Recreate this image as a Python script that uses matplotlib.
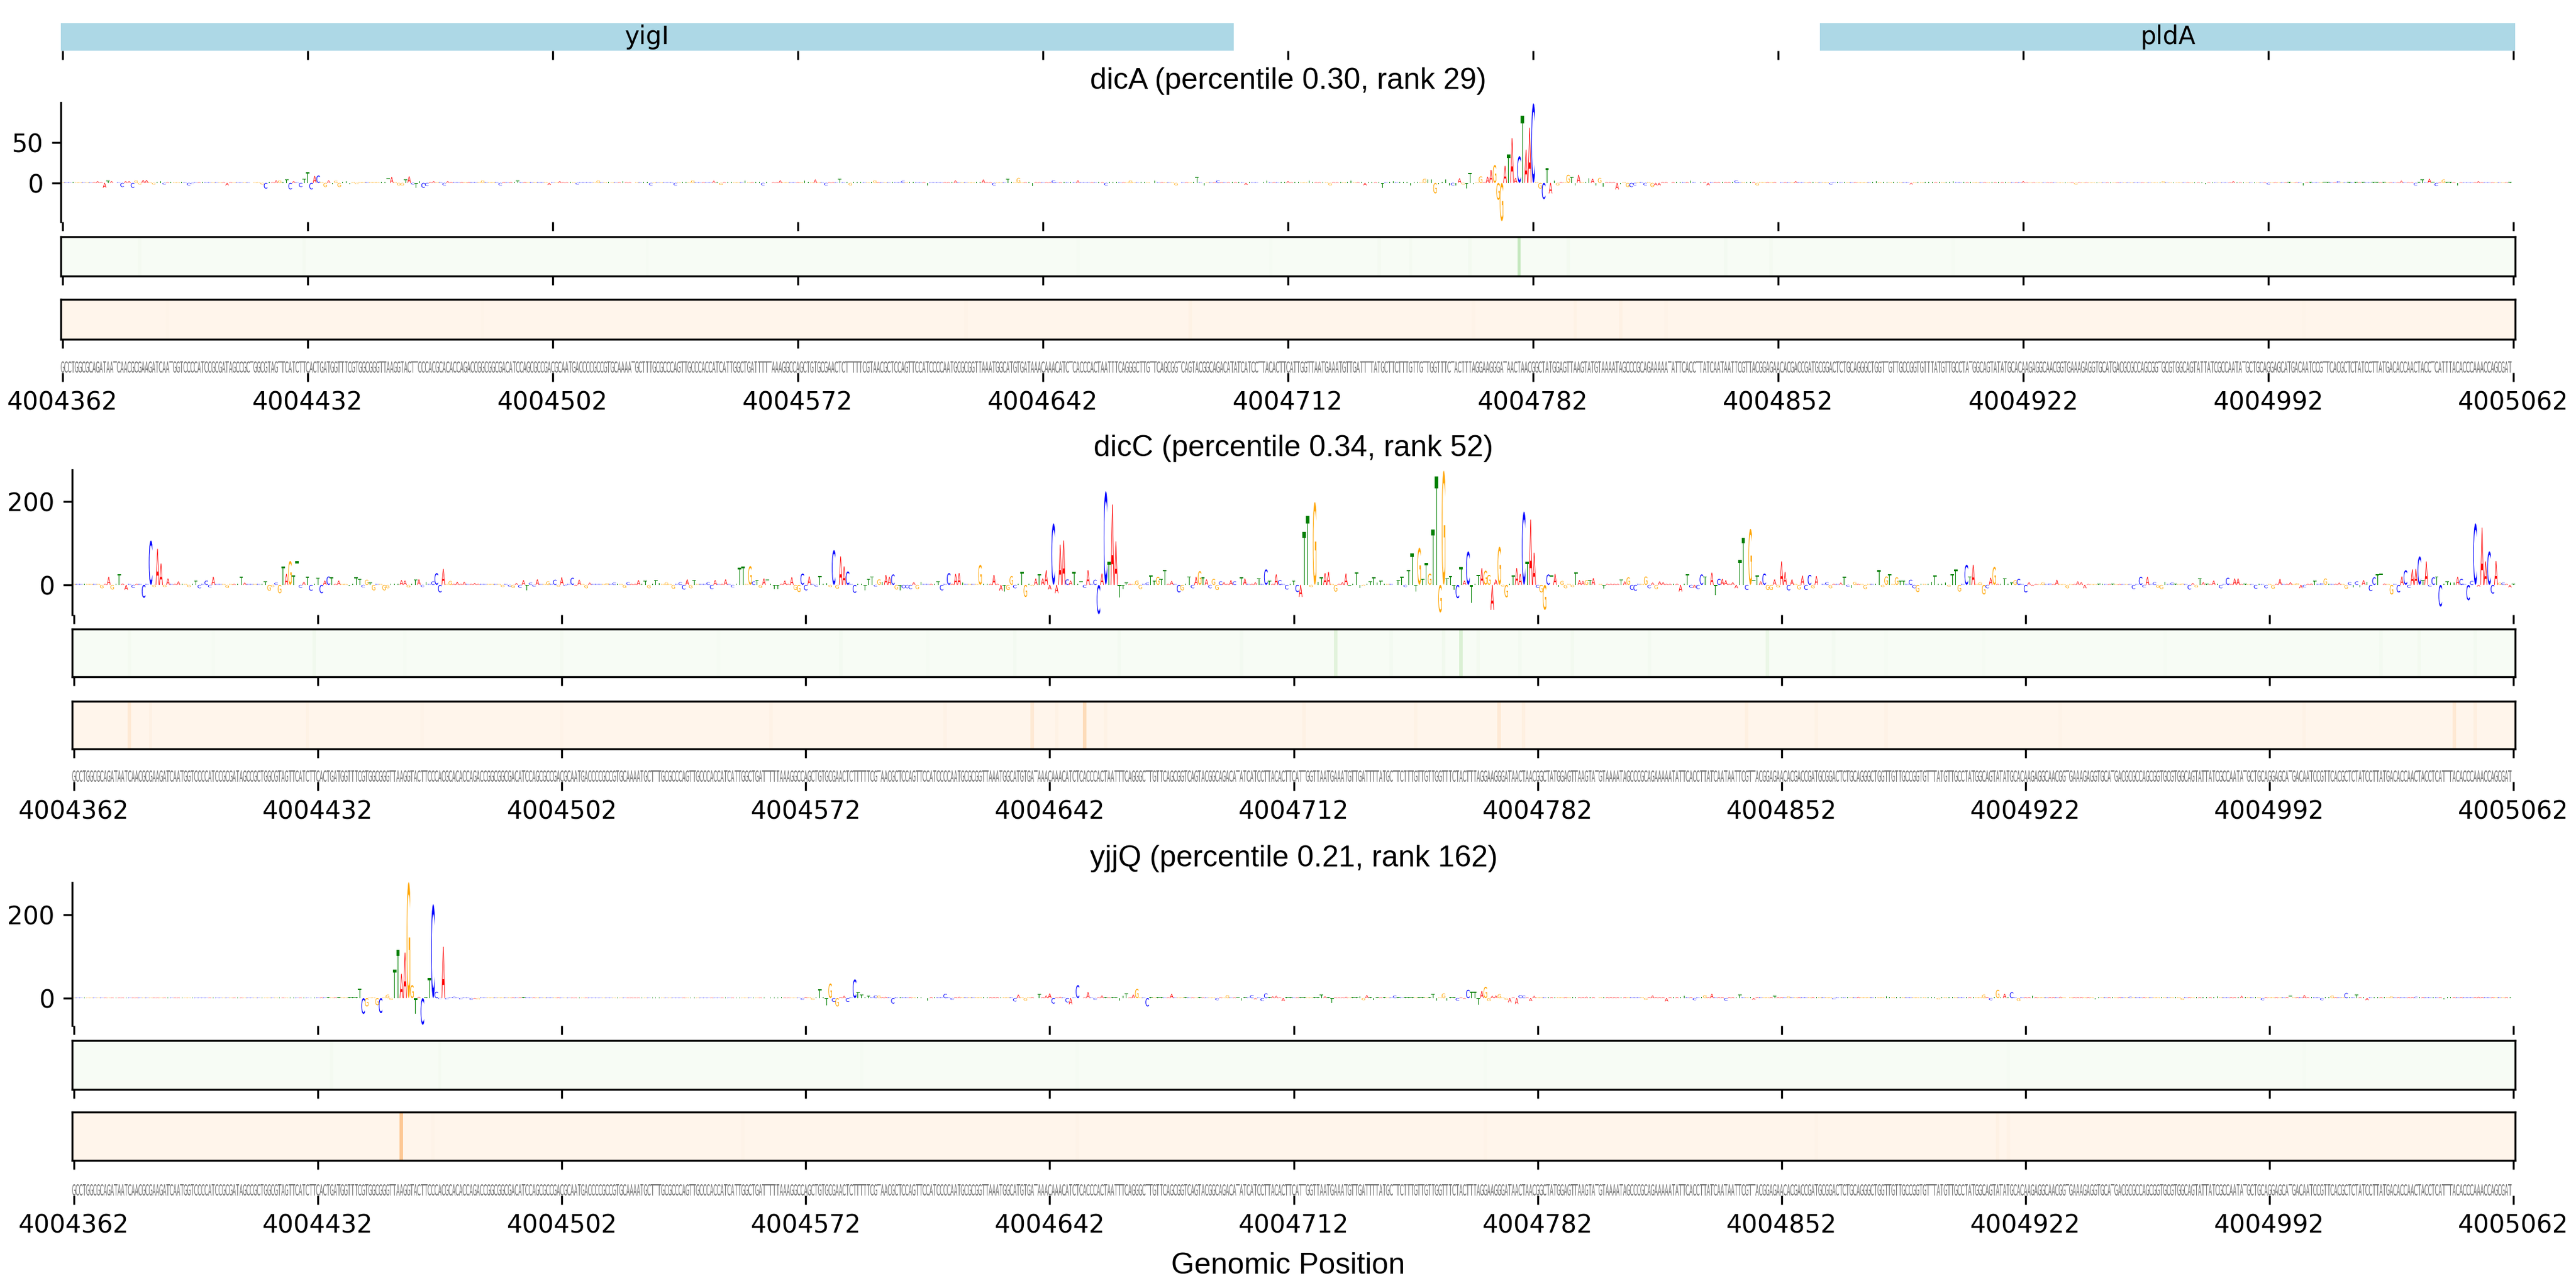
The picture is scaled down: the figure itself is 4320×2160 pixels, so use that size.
import numpy as np
import matplotlib
matplotlib.use('Agg')
import matplotlib.pyplot as plt
from matplotlib.font_manager import FontProperties
from matplotlib.patches import PathPatch
from matplotlib.textpath import TextPath
from matplotlib.transforms import Affine2D

start_pos = 4004362
tick_pos = list(range(0, 701, 70))
tick_labels = [str(start_pos + p) for p in tick_pos]

genes = [('yigI', -0.5, 334.5), ('pldA', 502.0, 700.5)]

sequence = (
    "GCCTGGCGCAGATAATCAACGCGAAGATCAATGGTCCCCATCCGCGATAGCCGCTGGCGTAGTTCATCTTCACTGATGGTTTCGTGGCGGGTTAAGGTACTTCCCACGCACACCAGACCGGCGGCGACATCCAGCGCCGACGCAATGACCCC"
    "GCCGTGCAAAATGCTTTGCGCCCAGTTGCCCACCATCATTGGCTGATTTTTAAAGGCCAGCTGTGCGAACTCTTTTTCGTAACGCTCCAGTTCCATCCCCAATGCGCGGTTAAATGGCATGTGATAAACAAACATCTCACCCA"
    "CTAATTTCAGGGCTTGTTCAGCGGTCAGTACGGCAGACATATCATCCTTACACTTCATTGGTTAATGAAATGTTGATTTTATGCTTCTTTGTTGTTGGTTTCTACTTTAGGAAGGGATAACTAACGGCTATGGAGTTAAGTATGTAAAAT"
    "AGCCCGCAGAAAAATATTCACCTTATCAATAATTCGTTACGGAGAACACGACCGATGCGGACTCTGCAGGGCTGGTTGTTGCCGGTGTTTATGTTGCCTATGGCAGTATATGCACAAGAGGCAACGGTGAAAGAGGTGCATGACGCGCCA"
    "GCGGTGCGTGGCAGTATTATCGCCAATATGCTGCAGGAGCATGACAATCCGTTCACGCTCTATCCTTATGACACCAACTACCTCATTTACACCCAAACCAGCGAT"
)

# (position, base, height)
dicA_peaks = [
    (10,'A',2),(12,'A',-6),(13,'T',2.5),(14,'A',2),(17,'C',-5),(18,'A',2),(19,'A',2),(20,'C',-6),(21,'G',3),(22,'G',-2),
    (23,'A',3.5),(24,'A',3.5),(26,'G',-2),(28,'T',2),(29,'C',-2),(36,'C',-3),(37,'C',-1.5),(47,'A',-3),(58,'C',-7),(57,'G',-2),
    (61,'A',3),(62,'G',3),(64,'T',4),(65,'C',-8),(66,'A',2),(68,'C',-5),(69,'T',5),(70,'T',13),(71,'C',-8),(72,'A',8.5),
    (73,'C',9),(75,'G',-5),(76,'A',3),(77,'T',-2),(78,'G',2.5),(79,'G',-5),(81,'T',2),(82,'T',-2),(84,'G',-1.5),(93,'T',5.5),
    (94,'A',7),(96,'G',-3),(97,'G',-3),(98,'T',4),(99,'A',8),(100,'C',-2),(101,'T',-6),(102,'T',2),(103,'C',-6),(104,'C',-4),
    (106,'A',2),(109,'C',-3),(110,'A',2),(120,'G',3),(125,'C',-3),(130,'T',2.5),(139,'A',-2.5),(142,'A',2),(147,'C',-2),(153,'G',3),(160,'T',2),(168,'C',-3),
    (175,'C',-3),(180,'G',3),(186,'A',2.5),(188,'G',-2.5),(195,'T',3),(200,'C',-3),(205,'A',3),
    (212,'T',3),(215,'A',4),(218,'C',-3),(222,'T',5),(225,'G',-3),(232,'G',3),(240,'C',2.5),(247,'T',-3),(255,'A',3),(263,'A',4),(266,'C',-3),(270,'T',5),
    (273,'G',6),(277,'T',-4),(283,'C',3),(290,'A',3),(298,'C',-3),(305,'G',3),(312,'T',3),(318,'G',-3),(324,'T',7),(326,'T',-3),(330,'C',3),(338,'A',-2.5),(344,'T',3),
    (350,'A',2),(356,'T',3),(362,'G',-3),(368,'T',3),(372,'A',-3),(377,'T',-6),(380,'T',2),(385,'T',-3),(389,'G',5),(390,'T',4.5),(391,'T',4.5),(392,'G',-13),
    (393,'T',-2),(395,'T',4.5),(396,'T',-3),(397,'C',-3),(398,'T',-3),(399,'A',5.5),(400,'G',-2),(401,'T',-7),(402,'T',12),(403,'T',-2),
    (405,'G',8),(407,'A',7.5),(408,'A',16),(409,'G',22),(410,'G',-21),(411,'G',-47),(412,'A',21),(413,'T',35),(414,'A',55),(415,'A',6),
    (416,'C',33),(417,'T',83),(418,'A',41),(419,'A',68),(420,'C',98),(422,'G',-7),(423,'C',-20),(424,'T',18),(425,'A',-13),(426,'T',3),
    (427,'G',-3),(430,'G',10),(431,'T',7),(432,'T',-3),(433,'A',10),(436,'T',6),(437,'A',5),(438,'T',-3),(439,'G',6),(440,'T',-5),
    (444,'A',-8),(445,'T',-2),(447,'G',-5),(448,'C',-5),(449,'C',-3),(452,'C',-3),(454,'G',-5),(455,'A',-3),(456,'A',-3),
    (465,'T',3),(470,'A',-3),(478,'C',3),(484,'G',-3),(490,'T',3),(495,'A',2),(505,'C',-2),(518,'T',2),(528,'A',-2),(540,'T',2),(560,'A',2),(575,'G',-2),(600,'G',2),(612,'T',-2),
    (620,'A',2),(630,'C',-2),(640,'T',-3),(650,'C',2),(668,'A',2.5),(672,'C',-3),(674,'T',4),(676,'A',5),(678,'C',-4),(680,'G',4),(684,'T',-3),(690,'A',2),
]

dicC_peaks = [
    (3,'T',3),(8,'G',-8),(10,'A',19),(11,'G',-11),(13,'T',26),(14,'A',3),(15,'A',-12),(17,'C',-7),(20,'C',-31),(22,'C',106),
    (23,'G',-5),(24,'A',86),(25,'A',51),(26,'G',-5),(27,'A',15),(30,'A',8),(33,'G',-5),(35,'T',10),(36,'C',-8),(38,'C',10),
    (39,'C',-6),(40,'A',19),(44,'G',-7),(48,'T',19),(49,'A',5),(55,'T',8),(56,'G',-14),(57,'G',-5),(58,'C',5),(59,'G',-20),
    (60,'T',44),(61,'A',26),(62,'G',57),(63,'T',23),(64,'T',57),(65,'C',-7),(66,'A',7),(67,'T',19),(68,'C',-14),(69,'T',3),
    (70,'T',17),(71,'C',-20),(72,'A',10),(73,'C',20),(74,'T',18),(76,'A',10),(79,'T',-3),(81,'T',18),(82,'T',14),(83,'C',-6),
    (84,'G',12),(85,'T',5),(86,'G',-13),(89,'G',-13),(90,'G',-8),(93,'T',3),(94,'A',11),(95,'A',10),(96,'G',-6),(98,'T',12),
    (99,'A',13),(100,'C',-5),(101,'T',7),(103,'C',8),(104,'C',28),(105,'C',-18),(106,'A',38),(108,'G',9),(110,'A',7),(112,'A',7),
    (115,'A',4),(123,'G',-5),(125,'C',-4),(126,'G',-7),(127,'A',4),(128,'C',-7),(129,'A',11),(130,'T',-13),(131,'C',5),(132,'C',-4),
    (133,'A',13),(136,'G',8),(138,'C',12),(139,'G',-4),(140,'A',18),(141,'C',-3),(143,'C',17),(144,'A',-3),(145,'A',12),(147,'G',-8),
    (148,'A',5),(153,'G',4),(155,'C',5),(158,'G',-7),(159,'C',6),(162,'A',11),(164,'T',9),(165,'G',-8),(167,'T',11),(168,'T',4),
    (170,'G',6),(172,'G',-9),(174,'C',6),(175,'C',-11),(176,'A',13),(177,'G',-8),(178,'T',11),(182,'C',6),(183,'C',-10),(184,'A',11),
    (187,'A',13),(189,'C',-6),(191,'T',41),(192,'T',44),(194,'G',45),(195,'C',8),(196,'T',11),(197,'G',-7),(198,'A',15),(199,'T',13),
    (201,'T',-10),(202,'T',-10),(204,'A',10),(206,'A',18),(207,'G',-12),(208,'G',-17),(209,'C',27),(210,'C',-13),(211,'A',20),(213,'C',-4),
    (214,'T',21),(216,'T',4),(217,'G',-5),(218,'C',83),(219,'G',-9),(220,'A',68),(221,'A',44),(222,'C',32),(224,'C',-19),(227,'T',-13),
    (228,'T',14),(229,'T',20),(230,'C',-4),(231,'G',13),(232,'T',7),(233,'A',24),(234,'A',19),(235,'C',25),(236,'G',-11),(237,'T',-13),
    (238,'C',-8),(239,'C',-8),(240,'C',-10),(241,'A',6),(242,'G',-10),(243,'T',7),(248,'T',8),(249,'C',-13),(251,'C',28),(253,'A',26),
    (254,'A',28),(255,'T',6),(260,'G',48),(264,'A',24),(266,'A',-14),(267,'T',-16),(268,'G',-12),(269,'G',21),(270,'C',-8),(272,'T',31),
    (273,'G',-29),(274,'T',3),(275,'G',-3),(276,'A',15),(277,'T',26),(278,'A',15),(279,'A',35),(280,'A',-11),(281,'C',147),(282,'A',-20),
    (283,'A',96),(284,'A',106),(285,'C',13),(286,'A',10),(287,'T',31),(289,'T',8),(290,'C',-7),(291,'A',35),(293,'C',12),(294,'C',-70),
    (295,'A',27),(296,'C',224),(297,'T',55),(298,'A',192),(299,'A',104),(300,'T',-30),(301,'T',-10),(302,'T',5),(305,'G',10),(306,'G',-10),
    (308,'C',5),(309,'T',22),(310,'T',10),(311,'G',19),(312,'T',14),(313,'T',36),(315,'A',9),(317,'C',-18),(318,'G',-13),(320,'T',20),
    (321,'C',-8),(322,'A',19),(323,'G',33),(324,'T',18),(325,'A',13),(326,'C',-8),(327,'G',14),(328,'G',-12),(329,'C',8),(330,'A',6),
    (332,'A',11),(333,'C',8),(335,'T',18),(336,'A',15),(339,'A',6),(340,'T',16),(342,'C',37),(343,'T',10),(345,'A',25),(346,'C',11),
    (348,'C',-11),(350,'T',10),(351,'C',-17),(352,'A',-29),(353,'T',127),(354,'T',165),(355,'G',-5),(356,'G',198),(357,'T',7),(358,'T',18),
    (359,'A',28),(360,'A',31),(362,'G',-16),(364,'A',6),(365,'A',27),(366,'T',-9),(368,'T',30),(369,'T',-7),(370,'G',-3),(372,'T',8),
    (373,'T',18),(374,'T',6),(375,'T',9),(380,'T',11),(381,'T',19),(382,'C',-5),(383,'T',36),(384,'T',76),(385,'T',-16),(386,'G',89),
    (387,'T',14),(388,'T',53),(389,'G',27),(390,'T',133),(391,'T',260),(392,'G',-66),(393,'G',273),(394,'T',15),(395,'T',21),(396,'T',-12),
    (397,'C',-32),(398,'T',42),(399,'A',10),(400,'C',80),(401,'T',-43),(403,'T',24),(404,'A',40),(405,'G',34),(406,'G',24),(407,'A',-60),
    (408,'A',13),(409,'G',91),(410,'G',-4),(411,'G',-30),(413,'T',23),(414,'A',40),(415,'A',26),(416,'C',175),(417,'T',56),(418,'A',156),
    (419,'A',77),(420,'C',-7),(421,'G',-18),(422,'G',-60),(423,'C',25),(424,'T',23),(425,'A',26),(426,'T',-5),(427,'G',9),(428,'G',-8),
    (430,'G',-5),(431,'T',30),(432,'A',11),(433,'A',9),(434,'G',11),(435,'T',11),(436,'A',16),(439,'T',-9),(444,'T',13),(445,'A',8),
    (446,'G',18),(447,'C',-12),(448,'C',-14),(451,'G',20),(452,'C',-8),(453,'A',5),(454,'G',-10),(455,'A',8),(456,'A',6),(461,'A',-16),
    (463,'T',26),(464,'C',-7),(465,'A',-7),(466,'C',-10),(467,'C',25),(468,'T',20),(469,'T',7),(470,'A',29),(471,'T',-24),(472,'C',14),
    (473,'A',14),(474,'A',11),(476,'A',6),(477,'A',-8),(478,'T',60),(479,'T',112),(480,'C',-12),(481,'G',134),(482,'T',11),(483,'T',22),
    (484,'A',8),(485,'C',27),(486,'G',-12),(487,'G',-12),(488,'A',13),(489,'G',-6),(490,'A',56),(491,'A',31),(492,'C',-13),(493,'A',13),
    (495,'G',-11),(496,'A',22),(497,'C',-12),(498,'C',24),(499,'G',-8),(500,'A',21),(501,'T',4),(503,'C',6),(504,'G',-8),(507,'A',5),
    (508,'T',19),(509,'C',-4),(510,'T',-7),(511,'G',7),(514,'G',-10),(518,'T',35),(519,'G',-5),(520,'G',20),(521,'T',25),(523,'G',18),
    (524,'T',9),(525,'T',9),(527,'C',12),(528,'C',-8),(529,'G',-17),(533,'T',7),(534,'T',22),(535,'T',3),(537,'T',6),(538,'G',-4),
    (539,'T',25),(540,'T',37),(541,'G',-16),(543,'C',48),(544,'T',20),(545,'A',48),(547,'G',6),(548,'G',-23),(549,'C',-8),(550,'A',17),
    (551,'G',43),(554,'T',16),(556,'T',5),(557,'G',11),(558,'C',14),(560,'C',-18),(561,'A',6),(562,'A',-3),(565,'G',6),(567,'C',3),
    (569,'A',12),(572,'G',-8),(575,'A',8),(576,'A',6),(577,'A',-8),(582,'T',3),(591,'C',-10),(593,'C',19),(594,'C',-6),(595,'A',19),
    (597,'C',6),(598,'G',-7),(599,'G',-10),(600,'T',7),(602,'C',5),(605,'G',3),(607,'C',-11),(608,'A',4),(609,'G',-6),(610,'T',16),
    (611,'A',6),(614,'A',10),(615,'T',3),(616,'C',-8),(618,'C',17),(620,'A',15),(621,'A',15),(626,'C',-9),(627,'T',3),(629,'C',-8),
    (631,'G',-9),(633,'A',14),(636,'A',6),(638,'G',4),(639,'A',-8),(640,'C',-6),(642,'A',3),(643,'T',10),(645,'C',4),(646,'G',15),
    (650,'A',5),(652,'G',-9),(653,'C',6),(654,'T',-6),(655,'C',8),(656,'T',-6),(657,'A',11),(658,'T',7),(659,'C',-15),(660,'C',18),
    (661,'T',25),(662,'T',27),(663,'A',3),(665,'G',-23),(667,'C',-18),(668,'A',20),(669,'C',35),(670,'C',-7),(671,'A',37),(672,'A',38),
    (673,'C',68),(674,'T',11),(675,'A',56),(676,'C',-4),(677,'C',18),(678,'T',20),(679,'C',-52),(681,'T',8),(682,'T',6),(683,'T',6),
    (684,'A',19),(685,'C',14),(687,'C',-37),(688,'C',9),(689,'C',147),(690,'A',-4),(691,'A',137),(692,'A',56),(693,'C',80),(694,'C',-21),
    (695,'A',57),(696,'G',5),(697,'C',5),(699,'A',-6),(700,'T',2),
]

yjjQ_peaks = [
    (82,'T',22),(83,'C',-38),(84,'G',-20),(87,'G',-17),(88,'C',-36),(90,'G',8),(91,'G',-4),(92,'T',69),(93,'T',115),(94,'A',58),
    (95,'A',109),(96,'G',278),(97,'G',31),(98,'T',-38),(99,'A',3),(100,'C',-64),(101,'T',2),(102,'T',48),(103,'C',225),(104,'C',15),
    (105,'C',-2),(106,'A',123),(107,'C',-3),(109,'C',3),(111,'C',-3),(114,'C',-4),(115,'A',-2),(116,'G',-3),
    (203,'T',3),(209,'C',-4),(212,'G',-4),(214,'T',21),(216,'T',-17),(217,'G',35),(218,'C',-9),(219,'G',-20),(221,'A',5),(222,'C',-9),
    (224,'C',45),(225,'T',14),(226,'T',8),(228,'T',5),(230,'C',6),(231,'G',6),(233,'A',3),(235,'C',-13),(244,'T',-6),(245,'T',-6),
    (250,'C',10),(252,'C',-4),(254,'A',3),(270,'C',-8),(271,'A',8),(273,'G',-6),(277,'T',10),(279,'A',6),(280,'A',11),(281,'C',-13),
    (283,'A',3),(285,'C',-10),(286,'A',-15),(288,'C',31),(289,'T',6),(291,'A',14),(293,'C',-4),(295,'A',6),(298,'T',2),(300,'T',-6),
    (301,'T',6),(302,'T',11),(304,'A',8),(305,'G',22),(308,'C',-20),(315,'A',10),(328,'C',-5),(331,'G',7),(335,'T',-6),(338,'C',7),
    (339,'A',-3),(341,'C',-7),(342,'C',11),(344,'A',4),(345,'A',5),(347,'A',-7),(358,'T',8),(359,'A',4),(361,'T',-11),(365,'A',3),
    (369,'T',4),(370,'G',-5),(371,'A',7),(373,'T',-5),(379,'C',6),(390,'T',10),(391,'T',-6),(393,'G',11),(394,'T',-6),(396,'T',2),
    (397,'C',-6),(399,'A',-2),(400,'C',20),(401,'T',15),(402,'T',15),(403,'T',-16),(404,'A',17),(405,'G',27),(406,'G',-7),(407,'A',5),
    (408,'A',6),(409,'G',9),(411,'G',-4),(412,'A',-10),(414,'A',-14),(415,'C',7),(416,'C',6),(418,'A',-7),(419,'A',5),(434,'A',3),
    (451,'G',-4),(453,'A',6),(457,'A',-8),(462,'T',6),(465,'C',-5),(468,'G',7),(470,'A',10),(474,'C',-6),(478,'T',8),(482,'A',-4),
    (488,'T',5),(492,'G',4),(505,'C',-3),(512,'A',3),(520,'T',4),(535,'G',-3),
    (548,'G',8),(550,'C',-5),(552,'G',20),(554,'A',10),(556,'C',14),(558,'G',-7),(562,'T',6),(570,'A',3),(580,'T',-3),(590,'C',3),
    (605,'G',-4),(615,'T',4),(622,'A',5),(628,'C',-5),(636,'T',5),(640,'A',7),(645,'C',-5),(648,'G',6),(652,'C',12),(655,'T',8),
    (658,'A',-5),(665,'G',4),(672,'C',3),(680,'T',-3),(690,'A',3),
]

# faint background letter height per 70 bp window
dicA_floor = [1.0, 1.2, 1.0, 1.0, 1.0, 1.0, 1.2, 1.0, 0.8, 0.9]
dicC_floor = [2.5, 2.5, 2.5, 2.5, 2.5, 2.5, 2.5, 2.5, 2.0, 2.5]
yjjQ_floor = [1.5, 2.0, 1.5, 2.5, 2.0, 2.0, 2.5, 2.5, 2.5, 2.5]

# (position, value) for the visible stripes of each heat strip
dicA_green = [(22,0.02),(69,0.02),(167,0.015),(290,0.01),(345,0.015),(376,0.02),(385,0.02),(402,0.03),(416,0.25),(430,0.03),(475,0.025),(488,0.02),(540,0.015)]
dicA_orange = [(30,0.01),(120,0.01),(258,0.015),(322,0.025),(403,0.015),(432,0.025),(445,0.03),(458,0.015),(640,0.01)]
dicC_green = [(16,0.02),(40,0.015),(69,0.04),(95,0.015),(140,0.02),(185,0.015),(220,0.025),(245,0.015),(270,0.025),(300,0.025),(335,0.025),(362,0.14),(378,0.025),
              (393,0.04),(398,0.17),(403,0.03),(415,0.025),(430,0.03),(452,0.025),(486,0.08),(505,0.025),(520,0.015),(548,0.015),(600,0.015),(662,0.025),(673,0.03),(689,0.025)]
dicC_orange = [(16,0.1),(22,0.03),(67,0.025),(100,0.015),(140,0.015),(200,0.02),(250,0.02),(275,0.1),(282,0.025),(290,0.18),(296,0.025),
               (353,0.03),(385,0.025),(409,0.1),(416,0.04),(480,0.04),(500,0.025),(520,0.02),(570,0.015),(640,0.02),(683,0.1),(689,0.05)]
yjjQ_green = [(74,0.02),(105,0.02),(226,0.015),(288,0.015),(405,0.015),(555,0.015),(640,0.01)]
yjjQ_orange = [(94,0.28),(103,0.015),(192,0.015),(288,0.015),(405,0.015),(552,0.03),(555,0.02),(500,0.015)]

panels = [
    {'title': 'dicA (percentile 0.30, rank 29)', 'peaks': dicA_peaks, 'floor': dicA_floor, 'green': dicA_green, 'orange': dicA_orange,
     'left': 102, 'logo': (172, 372), 'ylim': (-48, 99), 'yticks': [0, 50], 'green_y': (397, 463), 'orange_y': (502, 569), 'seq_y': (606, 625), 'pad': 5.5},
    {'title': 'dicC (percentile 0.34, rank 52)', 'peaks': dicC_peaks, 'floor': dicC_floor, 'green': dicC_green, 'orange': dicC_orange,
     'left': 121, 'logo': (788, 1031), 'ylim': (-71.6, 275), 'yticks': [0, 200], 'green_y': (1055, 1135), 'orange_y': (1176, 1256), 'seq_y': (1292, 1311), 'pad': 5.5},
    {'title': 'yjjQ (percentile 0.21, rank 162)', 'peaks': yjjQ_peaks, 'floor': yjjQ_floor, 'green': yjjQ_green, 'orange': yjjQ_orange,
     'left': 121, 'logo': (1480, 1720), 'ylim': (-66, 277), 'yticks': [0, 200], 'green_y': (1745, 1827), 'orange_y': (1865, 1946), 'seq_y': (1986, 2005), 'pad': 6.5},
]

W, H = 4320, 2160
RIGHT = 4218
base_colors = {'A': '#ff0000', 'C': '#0000ff', 'G': '#ffa500', 'T': '#008000'}
fp = FontProperties(family='DejaVu Sans')
letter_paths = {b: TextPath((0, 0), b, size=1, prop=fp) for b in 'ACGT'}


def make_ax(fig, left, top, bottom):
    return fig.add_axes([left / W, 1 - bottom / H, (RIGHT - left) / W, (bottom - top) / H])


def draw_letter(ax, base, pos, val, color, width=1.0):
    path = letter_paths[base]
    bb = path.get_extents()
    y0 = min(val, 0)
    tr = Affine2D().translate(-bb.x0, -bb.y0).scale(width / bb.width, abs(val) / bb.height).translate(pos - width / 2, y0)
    ax.add_patch(PathPatch(path, transform=tr + ax.transData, facecolor=color, edgecolor='none', linewidth=0))


def bottom_ticks(ax, labels=False):
    ax.set_xlim(-0.5, 700.5)
    ax.set_xticks(tick_pos)
    if labels:
        ax.set_xticklabels(tick_labels, fontsize=10)
    else:
        ax.set_xticklabels([])


def heat_strip(ax, stripes, cmap):
    vals = np.zeros(701)
    for p, v in stripes:
        vals[p] = v
    ax.imshow(vals[np.newaxis, :], aspect='auto', cmap=cmap, vmin=0, vmax=1, extent=(-0.5, 700.5, 0, 1), interpolation='nearest')
    ax.set_yticks([])
    bottom_ticks(ax)


fig = plt.figure(figsize=(14.4, 7.2), dpi=300)

ax = make_ax(fig, 102, 39, 85)
for name, x0, x1 in genes:
    ax.barh(0.5, x1 - x0, left=x0, height=1, color='lightblue')
    ax.text((x0 + x1) / 2, 0.5, name, ha='center', va='center', fontsize=10)
ax.set_ylim(0, 1)
ax.set_yticks([])
bottom_ticks(ax)
for s in ax.spines.values():
    s.set_visible(False)

for panel in panels:
    left = panel['left']

    ax = make_ax(fig, left, *panel['logo'])
    used = {p for p, b, v in panel['peaks']}
    for i, b in enumerate(sequence[:701]):
        if i not in used:
            draw_letter(ax, b, i, panel['floor'][min(i // 70, 9)], base_colors[b])
    for p, b, v in panel['peaks']:
        draw_letter(ax, b, p, v, base_colors[b])
    ax.set_ylim(*panel['ylim'])
    ax.set_yticks(panel['yticks'])
    ax.tick_params(axis='y', labelsize=10)
    bottom_ticks(ax)
    for s in ['top', 'right', 'bottom']:
        ax.spines[s].set_visible(False)
    ax.set_title(panel['title'], fontsize=12, family='Liberation Sans', pad=panel['pad'])

    ax = make_ax(fig, left, *panel['green_y'])
    heat_strip(ax, panel['green'], 'Greens')

    ax = make_ax(fig, left, *panel['orange_y'])
    heat_strip(ax, panel['orange'], 'Oranges')

    ax = make_ax(fig, left, *panel['seq_y'])
    for i, b in enumerate(sequence[:701]):
        draw_letter(ax, b, i, 1, '#707070', width=0.95)
    ax.set_ylim(0, 1)
    ax.set_yticks([])
    bottom_ticks(ax, labels=True)
    for s in ax.spines.values():
        s.set_visible(False)

fig.text(2160 / W, 1 - 2123 / H, 'Genomic Position', ha='center', va='center', fontsize=12, family='Liberation Sans')

fig.savefig('out.png', dpi=300)
